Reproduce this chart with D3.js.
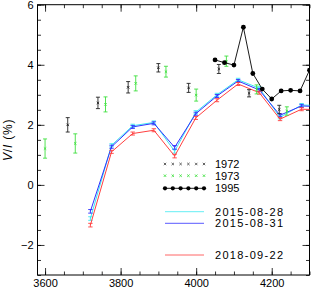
<!DOCTYPE html>
<html>
<head>
<meta charset="utf-8">
<script src="https://cdn.jsdelivr.net/npm/d3@7"></script>
<style>
  body { margin: 0; background: #fff; }
  svg { display: block; font-family: "Liberation Sans", Arial, sans-serif; }
</style>
</head>
<body>
<div id="chart"></div>
<script>
// --- data ---
const wl1972 = [3660, 3740, 3820, 3900, 3980, 4060, 4140, 4220];
const v1972 = [2.0, 2.73, 3.25, 3.9, 3.23, 3.86, 3.05, 2.51];
const e1972 = [0.24, 0.19, 0.19, 0.14, 0.15, 0.15, 0.12, 0.14];

const wl1973 = [3600, 3680, 3760, 3840, 3920, 4000, 4080, 4160, 4240];
const v1973 = [1.21, 1.38, 2.68, 3.38, 3.77, 2.99, 4.12, 3.18, 2.46];
const e1973 = [0.32, 0.32, 0.25, 0.25, 0.18, 0.2, 0.17, 0.15, 0.14];

const wl1995 = [4050, 4075, 4100, 4125, 4150, 4175, 4200, 4225, 4250, 4275, 4300];
const v1995 = [4.16, 4.07, 3.99, 5.25, 3.71, 3.19, 2.86, 3.13, 3.15, 3.13, 3.82];

const wlNew = [3720, 3776, 3832, 3888, 3943, 3999, 4055, 4111, 4167, 4222, 4279, 4335];
const v150828 = [-1.12, 1.32, 1.97, 2.08, 1.12, 2.42, 3.0, 3.5, 3.22, 2.25, 2.66, 2.64];
const v150831 = [-0.88, 1.27, 1.93, 2.05, 1.25, 2.37, 2.96, 3.46, 3.16, 2.32, 2.63, 2.6];
const v180922 = [-1.34, 1.1, 1.71, 1.82, 0.96, 2.23, 2.82, 3.36, 3.07, 2.19, 2.52, 2.5];
const eNew = [0.06, 0.05, 0.05, 0.05, 0.06, 0.05, 0.05, 0.05, 0.05, 0.05, 0.05, 0.05];

const xTicks = [3600, 3800, 4000, 4200];
const yTicks = [-2, 0, 2, 4, 6];

const W = 314, H = 293;
const m = { left: 37.5, right: 4.5, top: 4.7, bottom: 18 };

const x = d3.scaleLinear().domain([3580, 4300]).range([m.left, W - m.right]);
const y = d3.scaleLinear().domain([-3, 6]).range([H - m.bottom, m.top]);

const svg = d3.select('#chart').append('svg').attr('width', W).attr('height', H);

svg.append('defs').append('clipPath').attr('id', 'clip')
  .append('rect')
  .attr('x', x.range()[0]).attr('y', y.range()[1])
  .attr('width', x.range()[1] - x.range()[0])
  .attr('height', y.range()[0] - y.range()[1]);

// axes: ticks inward on all four sides
const majX = 7, minX = 3.5;
const xMinor = d3.range(3600, 4301, 50);
const yMinor = d3.range(-3, 6.01, 0.5);

function axis(gen, tr, size, fmt) {
  svg.append('g').attr('transform', tr)
    .call(gen.tickSizeInner(size).tickSizeOuter(0).tickPadding(4).tickFormat(fmt))
    .call(g => g.select('.domain').remove())
    .call(g => g.selectAll('line').attr('stroke', '#000').attr('stroke-width', 0.8))
    .call(g => g.selectAll('text').attr('font-size', 11).attr('fill', '#000'));
}
const fmtNum = d => d < 0 ? '\u2212' + Math.abs(d) : String(d);
const yb = y.range()[0], yt = y.range()[1], xl = x.range()[0], xr = x.range()[1];

axis(d3.axisBottom(x).tickValues(xMinor), `translate(0,${yb})`, -minX, () => '');
axis(d3.axisBottom(x).tickValues(xTicks), `translate(0,${yb})`, -majX, fmtNum);
axis(d3.axisTop(x).tickValues(xMinor), `translate(0,${yt})`, -minX, () => '');
axis(d3.axisTop(x).tickValues(xTicks), `translate(0,${yt})`, -majX, () => '');
axis(d3.axisLeft(y).tickValues(yMinor), `translate(${xl},0)`, -minX, () => '');
axis(d3.axisLeft(y).tickValues(yTicks), `translate(${xl},0)`, -majX, fmtNum);
axis(d3.axisRight(y).tickValues(yMinor), `translate(${xr},0)`, -minX, () => '');
axis(d3.axisRight(y).tickValues(yTicks), `translate(${xr},0)`, -majX, () => '');

svg.selectAll('.tick text').filter(function() { return this.textContent === ''; }).remove();

// frame
svg.append('rect')
  .attr('x', xl).attr('y', yt).attr('width', xr - xl).attr('height', yb - yt)
  .attr('fill', 'none').attr('stroke', '#000').attr('stroke-width', 1);

// y label
const yl = svg.append('text')
  .attr('transform', `translate(12,${(yb + yt) / 2}) rotate(-90)`)
  .attr('text-anchor', 'middle').attr('font-size', 12).attr('letter-spacing', 0.8);
yl.append('tspan').attr('font-style', 'italic').text('V');
yl.append('tspan').text('/');
yl.append('tspan').attr('font-style', 'italic').text('I');
yl.append('tspan').text(' (%)');

const plot = svg.append('g').attr('clip-path', 'url(#clip)');

// error bar helper
function errBars(xs, vs, es, color, cap) {
  const g = plot.append('g').attr('stroke', color).attr('stroke-width', 0.9);
  xs.forEach((xv, i) => {
    const cx = x(xv), y0 = y(vs[i] - es[i]), y1 = y(vs[i] + es[i]);
    g.append('line').attr('x1', cx).attr('x2', cx).attr('y1', y0).attr('y2', y1);
    g.append('line').attr('x1', cx - cap).attr('x2', cx + cap).attr('y1', y0).attr('y2', y0);
    g.append('line').attr('x1', cx - cap).attr('x2', cx + cap).attr('y1', y1).attr('y2', y1);
  });
}
function crosses(g, pts, color, s) {
  pts.forEach(([cx, cy]) => {
    g.append('path')
      .attr('d', `M${cx - s},${cy - s}L${cx + s},${cy + s}M${cx - s},${cy + s}L${cx + s},${cy - s}`)
      .attr('stroke', color).attr('stroke-width', 0.9).attr('fill', 'none');
  });
}

const line = d3.line().x(d => x(d[0])).y(d => y(d[1]));

// recent spectropolarimetry
const newSeries = [
  { vals: v150828, color: '#3ce8f0' },
  { vals: v150831, color: '#3030ff' },
  { vals: v180922, color: '#ff4040' }
];
newSeries.forEach(s => {
  plot.append('path').datum(wlNew.map((w, i) => [w, s.vals[i]]))
    .attr('d', line).attr('fill', 'none').attr('stroke', s.color).attr('stroke-width', 1);
  errBars(wlNew, s.vals, eNew, s.color, 2.2);
});

// 1972
errBars(wl1972, v1972, e1972, '#222', 2);
crosses(plot.append('g'), wl1972.map((w, i) => [x(w), y(v1972[i])]), '#222', 1.2);

// 1973
errBars(wl1973, v1973, e1973, '#3ee03e', 2);
crosses(plot.append('g'), wl1973.map((w, i) => [x(w), y(v1973[i])]), '#3ee03e', 1.2);

// 1995
plot.append('path').datum(wl1995.map((w, i) => [w, v1995[i]]))
  .attr('d', line).attr('fill', 'none').attr('stroke', '#000').attr('stroke-width', 0.9);
plot.append('g').selectAll('circle').data(wl1995).join('circle')
  .attr('cx', d => x(d)).attr('cy', (d, i) => y(v1995[i])).attr('r', 2.4).attr('fill', '#000');

// legend
const lx0 = 165, lx1 = 204, ltx = 215;
const lg = svg.append('g');
const legendRows = [
  { label: '1972', yPos: 164, kind: 'cross', color: '#555' },
  { label: '1973', yPos: 175.7, kind: 'cross', color: '#3ee03e' },
  { label: '1995', yPos: 188.3, kind: 'dot', color: '#000' },
  { label: '2015-08-28', yPos: 211.7, kind: 'line', color: '#3ce8f0' },
  { label: '2015-08-31', yPos: 223.3, kind: 'line', color: '#3030ff' },
  { label: '2018-09-22', yPos: 255, kind: 'line', color: '#ff4040' }
];
const mk = d3.range(6).map(i => lx0 + i * (lx1 - lx0) / 5);
legendRows.forEach(r => {
  if (r.kind === 'cross') {
    crosses(lg, mk.map(v => [v, r.yPos]), r.color, 1.2);
  } else if (r.kind === 'dot') {
    lg.append('line').attr('x1', lx0).attr('x2', lx1).attr('y1', r.yPos).attr('y2', r.yPos)
      .attr('stroke', '#000').attr('stroke-width', 0.9);
    mk.forEach(v => lg.append('circle').attr('cx', v).attr('cy', r.yPos).attr('r', 2.1).attr('fill', '#000'));
  } else {
    lg.append('line').attr('x1', lx0).attr('x2', lx1).attr('y1', r.yPos).attr('y2', r.yPos)
      .attr('stroke', r.color).attr('stroke-width', 0.8);
  }
  const t = lg.append('text').attr('x', ltx).attr('y', r.yPos + 4).attr('font-size', 11)
    .attr('fill', '#000').text(r.label);
  if (r.label.length > 4) t.attr('textLength', 68).attr('lengthAdjust', 'spacing');
});
</script>
</body>
</html>
